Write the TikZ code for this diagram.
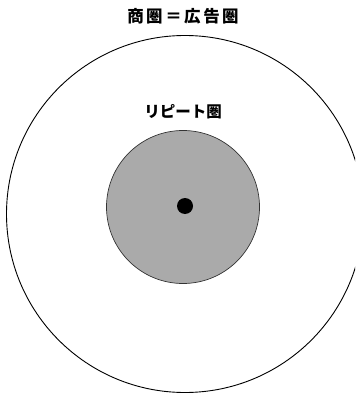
\documentclass[tikz,border=0pt]{standalone}
\usepackage{fontspec}
\newfontfamily\cjk{Noto Sans CJK JP}
\newcommand{\gp}{\kern2.5pt}
\begin{document}
\begin{tikzpicture}[x=1pt,y=-1pt,
  lbl/.style={font=\cjk\bfseries\fontsize{16.5}{18}\selectfont, inner sep=0pt},
  ring/.style={draw=black, line width=0.9pt}]
\useasboundingbox (0,0) rectangle (355,395);
\begin{scope}
\clip (0,0) rectangle (355,395);
\node[ring, circle, minimum size=357pt, inner sep=0pt] (outer) at (185,214) {};
\end{scope}
\node[circle, draw=black!80, line width=0.7pt, fill={rgb,255:red,170;green,170;blue,170}, minimum size=153pt, inner sep=0pt] (inner) at (183,207) {};
\node[circle, fill=black, minimum size=16pt, inner sep=0pt] (dot) at (185,206) {};
\node[lbl] (t1) at (183,16.5) {商\gp 圏\gp ＝\gp 広\gp 告\gp 圏};
\node[lbl, font=\cjk\bfseries\fontsize{15.5}{17}\selectfont] (t2) at (183,112) {リピート圏};
\end{tikzpicture}
\end{document}
